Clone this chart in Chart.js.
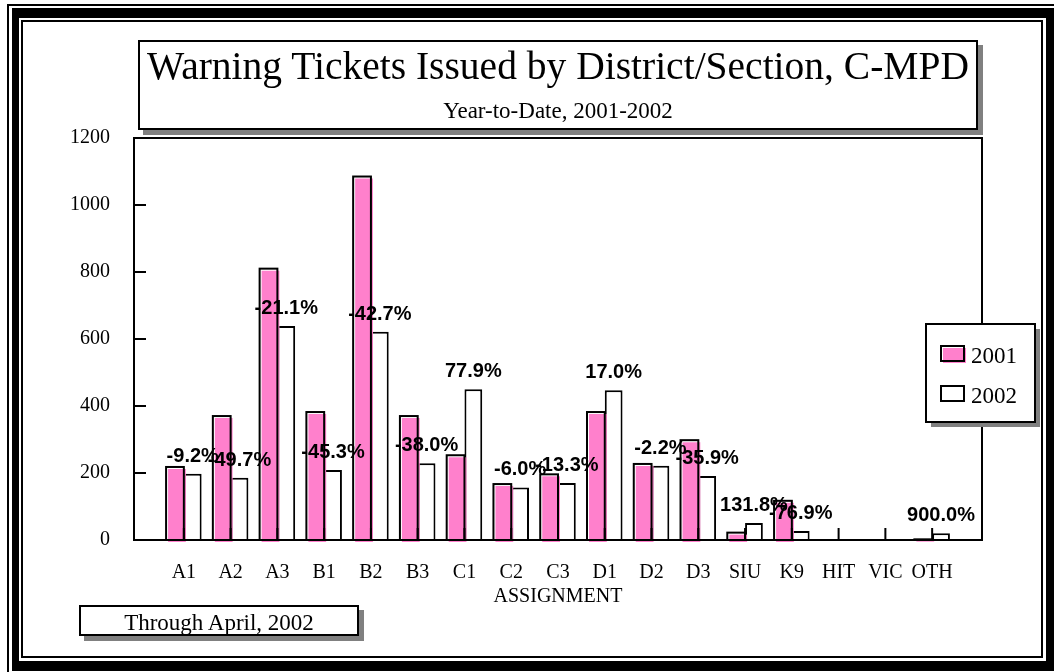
<!DOCTYPE html>
<html><head><meta charset="utf-8">
<script src="https://cdn.jsdelivr.net/npm/chart.js@4/dist/chart.umd.min.js"></script>
<style>
html,body{margin:0;padding:0;background:#fff;}
body{width:1054px;height:672px;position:relative;overflow:hidden;font-family:"Liberation Serif","Times New Roman",serif;color:#000;}
.abs{position:absolute;box-sizing:border-box;}
.txt{white-space:nowrap;text-align:center;}
</style></head><body>
<div class="abs" style="left:7px;top:4px;width:1100px;height:700px;border-left:2px solid #000;border-top:2px solid #000;"></div>
<div class="abs" style="left:12px;top:8px;width:1042px;height:663px;background:#000;"></div>
<div class="abs" style="left:19px;top:18px;width:1027px;height:643px;background:#fff;"></div>
<div class="abs" style="left:21px;top:20px;width:1022px;height:638px;border:2px solid #000;"></div>
<canvas id="c" class="abs" style="left:0;top:0;" width="1054" height="672"></canvas>
<div class="abs" style="left:138px;top:40px;width:840px;height:90px;border:2px solid #000;background:#fff;box-shadow:5px 5px 0 #808080;"></div>
<div class="abs txt" style="left:138px;top:47px;width:840px;font-size:39.5px;line-height:39px;">Warning Tickets Issued by District/Section, C-MPD</div>
<div class="abs txt" style="left:138px;top:99px;width:840px;font-size:23px;line-height:23px;">Year-to-Date, 2001-2002</div>
<div class="abs" style="left:79px;top:605px;width:280px;height:31px;border:2px solid #000;background:#fff;box-shadow:5px 5px 0 #808080;"></div>
<div class="abs txt" style="left:79px;top:611px;width:280px;font-size:23px;line-height:23px;">Through April, 2002</div>
<script>
const categories = ['A1','A2','A3','B1','B2','B3','C1','C2','C3','D1','D2','D3','SIU','K9','HIT','VIC','OTH'];
const tickets2001 = [218,370,810,382,1085,370,253,167,196,382,227,298,22,117,0,0,2];
const tickets2002 = [198,186,639,209,622,229,450,157,170,447,222,191,51,27,0,0,20];
const changeLabels = ['-9.2%','-49.7%','-21.1%','-45.3%','-42.7%','-38.0%','77.9%','-6.0%','-13.3%','17.0%','-2.2%','-35.9%','131.8%','-76.9%','','','900.0%'];
const seriesNames = ['2001','2002'];
const seriesColors = ['#ff80cc','#ffffff'];
const yMax = 1200, yStep = 200;

const serif = '"Liberation Serif","Times New Roman",serif';

const decor = {
  id: 'decor',
  beforeDatasetDraw(chart, args) {
    if (args.index === 0) { chart.ctx.save(); chart.ctx.translate(2, 2); }
  },
  afterDatasetDraw(chart, args) {
    if (args.index !== 0) return;
    const ctx = chart.ctx;
    ctx.restore();
    ctx.save();
    ctx.strokeStyle = '#000';
    ctx.lineWidth = 2;
    args.meta.data.forEach(el => {
      const p = el.getProps(['x', 'y', 'base', 'width'], true);
      const h = p.base - p.y;
      if (h > 0.5 || h > 0) ctx.strokeRect(p.x - p.width / 2, p.y, p.width, h);
    });
    ctx.restore();
  },
  afterDatasetsDraw(chart) {
    const {ctx, chartArea: a, scales: {x, y}} = chart;
    ctx.save();
    ctx.strokeStyle = '#000';
    ctx.lineWidth = 2;
    ctx.beginPath();
    y.ticks.forEach(t => { const py = Math.round(y.getPixelForValue(t.value)); ctx.moveTo(a.left, py); ctx.lineTo(a.left + 12, py); });
    x.ticks.forEach(t => { const px = x.getPixelForValue(t.value); ctx.moveTo(px, a.bottom); ctx.lineTo(px, a.bottom - 12); });
    ctx.stroke();
    ctx.strokeRect(a.left, a.top, a.right - a.left, a.bottom - a.top);
    const meta = chart.getDatasetMeta(1);
    ctx.fillStyle = '#000';
    ctx.font = 'bold 20px "Liberation Sans", Arial, sans-serif';
    ctx.textAlign = 'center';
    ctx.textBaseline = 'alphabetic';
    meta.data.forEach((el, i) => {
      if (changeLabels[i]) ctx.fillText(changeLabels[i], el.x, el.y - 12);
    });
    ctx.restore();
  },
  afterDraw(chart) {
    const {ctx} = chart;
    ctx.save();
    const bx = 926, by = 324, bw = 109, bh = 98;
    ctx.fillStyle = '#808080';
    ctx.fillRect(bx + 5, by + 5, bw, bh);
    ctx.fillStyle = '#fff';
    ctx.fillRect(bx, by, bw, bh);
    ctx.strokeStyle = '#000';
    ctx.lineWidth = 2;
    ctx.strokeRect(bx, by, bw, bh);
    chart.data.datasets.forEach((ds, i) => {
      const sy = 346 + i * 40;
      ctx.fillStyle = ds.backgroundColor;
      ctx.fillRect(941 + (i === 0 ? 2 : 0), sy + (i === 0 ? 2 : 0), 23, 15);
      ctx.strokeRect(941, sy, 23, 15);
      ctx.fillStyle = '#000';
      ctx.font = '23px ' + serif;
      ctx.textAlign = 'left';
      ctx.textBaseline = 'alphabetic';
      ctx.fillText(ds.label, 971, 363 + i * 40);
    });
    ctx.restore();
  }
};

new Chart(document.getElementById('c'), {
  type: 'bar',
  data: {
    datasets: [0, 1].map(s => ({
      label: seriesNames[s],
      data: (s === 0 ? tickets2001 : tickets2002).map((v, i) => ({x: i, y: v})),
      backgroundColor: seriesColors[s],
      borderColor: '#000',
      borderWidth: s === 0 ? 0 : 2,
      clip: s === 0 ? false : undefined,
      barPercentage: 1.0,
      categoryPercentage: 0.76
    }))
  },
  options: {
    responsive: false,
    animation: false,
    layout: {padding: {left: 0, top: 138, right: 72, bottom: 0}},
    plugins: {legend: {display: false}, tooltip: {enabled: false}},
    scales: {
      x: {
        type: 'linear',
        min: -1.066,
        max: categories.length - 1 + 1.066,
        offset: false,
        grid: {display: false},
        border: {display: false},
        afterFit: s => { s.height = 132; },
        afterBuildTicks: s => { s.ticks = categories.map((c, i) => ({value: i})); },
        ticks: {
          autoSkip: false, maxRotation: 0, padding: 13, color: '#000',
          font: {family: serif, size: 20},
          callback: v => categories[v]
        },
        title: {display: true, text: 'ASSIGNMENT', color: '#000', font: {family: serif, size: 20}, padding: {top: 0, bottom: 63}}
      },
      y: {
        min: 0, max: yMax,
        grid: {display: false},
        border: {display: false},
        afterFit: s => { s.width = 134; },
        ticks: {stepSize: yStep, padding: 16, color: '#000', font: {family: serif, size: 20}, callback: v => String(v)}
      }
    }
  },
  plugins: [decor]
});
</script>
</body></html>
